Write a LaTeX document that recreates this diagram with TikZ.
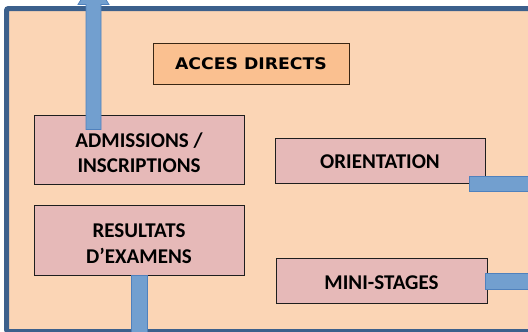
\documentclass[tikz,border=0pt]{standalone}
\usepackage{fontspec}
\setmainfont{Carlito}
\newfontfamily\comicish[FakeStretch=1.08]{DejaVu Sans}
\usetikzlibrary{calc}
\definecolor{framebg}{RGB}{251,213,181}
\definecolor{frameline}{RGB}{60,96,140}
\definecolor{pinkbox}{RGB}{230,185,184}
\definecolor{orangebox}{RGB}{250,192,144}
\definecolor{arrowfill}{RGB}{114,159,207}
\definecolor{arrowline}{RGB}{79,129,189}
\definecolor{boxline}{RGB}{30,30,30}
\tikzset{
  pbox/.style={draw=boxline, line width=1pt, fill=pinkbox, inner sep=0pt},
  ptext/.style={align=center, font=\fontsize{21}{25.5}\selectfont\bfseries, text=black, inner sep=0pt},
  obox/.style={draw=black!70!brown, line width=1pt, fill=orangebox,
    font=\comicish\fontsize{16}{18}\selectfont\bfseries, text=black, inner sep=0pt},
  blockarrow/.style={fill=arrowfill, draw=arrowline, line width=0.8pt},
}
\begin{document}
\begin{tikzpicture}[x=1pt,y=-1pt]
\useasboundingbox (0,0) rectangle (528,332);
\begin{scope}
\clip (0,0) rectangle (528,332);
% frame
\draw[fill=framebg, draw=frameline, line width=5pt, rounded corners=2pt] (6.5,8.5) rectangle (545,331.5);
% boxes
\node[obox, minimum width=196pt, minimum height=41pt] (acces) at (251,63.5) {ACCES DIRECTS};
\node[pbox, minimum width=210pt, minimum height=69pt] (adm) at (139,149.5) {};
\node[ptext] (admtext) at ($(adm.center)+(0,3)$) {ADMISSIONS /\\INSCRIPTIONS};
\node[pbox, minimum width=210pt, minimum height=70pt] (res) at (139,240) {};
\node[ptext] (restext) at ($(res.center)+(0,3.5)$) {RESULTATS\\D’EXAMENS};
\node[pbox, minimum width=210pt, minimum height=45pt] (ori) at (380,160.5) {};
\node[ptext] (oritext) at ($(ori.center)+(0,1.5)$) {ORIENTATION};
\node[pbox, minimum width=211pt, minimum height=45pt] (mini) at (381.5,280.5) {};
\node[ptext] (minitext) at ($(mini.center)+(0,2)$) {MINI-STAGES};
% block arrows
\draw[blockarrow] ($(adm.north)+(-53,15)$) -- ++(0,-125) -- ++(-8,0) -- ++(15.5,-25) -- ++(15.5,25) -- ++(-8,0) -- ++(0,125) -- cycle;
\draw[blockarrow] ($(res.south)+(-8,0)$) rectangle ++(16,62);
\draw[blockarrow] ($(ori.south east)+(-16,-7.5)$) rectangle ++(80,15.5);
\draw[blockarrow] ($(mini.east)+(-2.5,-7.5)$) rectangle ++(80,16);
\end{scope}
\end{tikzpicture}
\end{document}
